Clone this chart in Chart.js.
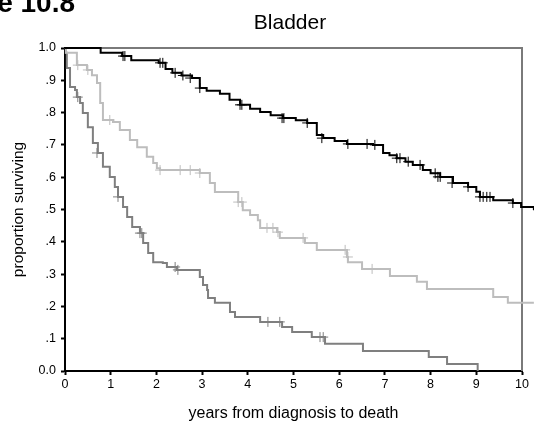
<!DOCTYPE html>
<html>
<head>
<meta charset="utf-8">
<script src="https://cdn.jsdelivr.net/npm/chart.js@4.4.1/dist/chart.umd.min.js"></script>
<style>
    body { margin: 0; background: #fff; }
    #wrap { position: relative; width: 534px; height: 435px; overflow: hidden; font-family: "Liberation Sans", Arial, sans-serif; }
    #figura { position: absolute; right: 459px; top: -11px; font-weight: bold; font-size: 28px; line-height: 28px; white-space: nowrap; color: #000; }
    #titulo { position: absolute; left: 0; width: 580px; top: 11px; text-align: center; font-size: 21px; line-height: 21px; color: #000; }
    canvas { position: absolute; left: 0; top: 0; }
</style>
</head>
<body>
<div id="wrap">
    <canvas id="chart1" width="534" height="435"></canvas>
    <div id="figura">Figure 10.8</div>
    <div id="titulo">Bladder</div>
</div>
<script>
// curva superior (negra)
const negroT = [0, 0.78, 1.25, 1.45, 2.05, 2.20, 2.35, 2.55, 2.78, 2.95, 3.10, 3.39, 3.60, 3.83, 4.05, 4.27, 4.50, 4.77, 5.05, 5.30, 5.51, 5.65, 5.90, 6.17, 6.74, 6.96, 7.10, 7.26, 7.45, 7.61, 7.83, 8.00, 8.21, 8.49, 8.82, 9.00, 9.08, 9.37, 9.80, 9.98, 10.26];
const negroS = [1.0, 0.985, 0.975, 0.962, 0.954, 0.935, 0.923, 0.915, 0.907, 0.876, 0.868, 0.858, 0.840, 0.824, 0.812, 0.802, 0.792, 0.783, 0.776, 0.768, 0.731, 0.721, 0.712, 0.703, 0.700, 0.675, 0.668, 0.659, 0.648, 0.638, 0.622, 0.612, 0.601, 0.582, 0.570, 0.555, 0.539, 0.529, 0.520, 0.508, 0.498];
const negroCensT = [1.27, 1.31, 2.08, 2.14, 2.41, 2.58, 2.74, 2.95, 3.83, 3.87, 4.75, 4.79, 5.30, 5.62, 6.19, 6.61, 6.78, 7.26, 7.33, 7.51, 7.77, 8.10, 8.16, 8.21, 8.47, 8.82, 9.08, 9.15, 9.23, 9.30, 9.80];
const negroCensS = [0.975, 0.975, 0.954, 0.954, 0.923, 0.915, 0.907, 0.876, 0.824, 0.824, 0.783, 0.783, 0.768, 0.721, 0.703, 0.703, 0.700, 0.659, 0.659, 0.648, 0.638, 0.612, 0.601, 0.601, 0.582, 0.570, 0.539, 0.539, 0.539, 0.539, 0.520];

// curva intermedia (gris claro)
const claroT = [0, 0.02, 0.26, 0.48, 0.59, 0.70, 0.77, 0.83, 1.05, 1.20, 1.42, 1.58, 1.79, 1.93, 2.01, 2.08, 2.95, 3.17, 3.28, 3.79, 3.89, 4.05, 4.22, 4.27, 4.64, 4.70, 5.25, 5.51, 6.17, 6.19, 6.50, 7.11, 7.70, 7.92, 9.37, 9.69, 10.26];
const claroS = [1.0, 0.985, 0.947, 0.932, 0.916, 0.892, 0.830, 0.777, 0.771, 0.746, 0.715, 0.693, 0.663, 0.644, 0.628, 0.622, 0.613, 0.582, 0.554, 0.523, 0.498, 0.483, 0.467, 0.443, 0.430, 0.412, 0.396, 0.375, 0.353, 0.337, 0.316, 0.294, 0.276, 0.254, 0.229, 0.211, 0.211];
const claroCensT = [0.28, 0.50, 0.98, 2.08, 2.52, 2.74, 2.95, 3.79, 3.87, 4.42, 4.55, 4.66, 5.21, 6.13, 6.19, 6.72];
const claroCensS = [0.947, 0.932, 0.777, 0.622, 0.622, 0.622, 0.613, 0.523, 0.523, 0.443, 0.443, 0.430, 0.412, 0.375, 0.353, 0.316];

// curva inferior (gris medio)
const medioT = [0, 0.02, 0.04, 0.11, 0.22, 0.26, 0.33, 0.39, 0.50, 0.61, 0.72, 0.83, 0.98, 1.09, 1.16, 1.27, 1.36, 1.47, 1.64, 1.71, 1.82, 1.93, 2.14, 2.23, 2.45, 2.95, 3.02, 3.11, 3.13, 3.28, 3.61, 3.72, 4.27, 4.75, 4.97, 5.40, 5.69, 6.52, 7.96, 8.36, 9.03];
const medioS = [1.0, 0.985, 0.938, 0.879, 0.870, 0.848, 0.830, 0.799, 0.755, 0.706, 0.675, 0.632, 0.601, 0.570, 0.539, 0.508, 0.477, 0.446, 0.427, 0.396, 0.365, 0.337, 0.334, 0.322, 0.313, 0.291, 0.266, 0.251, 0.226, 0.211, 0.183, 0.167, 0.152, 0.136, 0.121, 0.105, 0.084, 0.062, 0.043, 0.022, 0.0];
const medioCensT = [0.28, 0.70, 1.16, 1.64, 1.68, 2.41, 2.47, 4.44, 4.70, 5.58, 5.65];
const medioCensS = [0.848, 0.675, 0.539, 0.427, 0.427, 0.322, 0.313, 0.152, 0.152, 0.105, 0.105];

const ticksX = [0, 1, 2, 3, 4, 5, 6, 7, 8, 9, 10];
const ticksY = [0, 0.1, 0.2, 0.3, 0.4, 0.5, 0.6, 0.7, 0.8, 0.9, 1.0];

const colorNegro = '#000000';
const colorClaro = '#bdbdbd';
const colorMedio = '#7f7f7f';

function puntos(ts, ss) {
    return ts.map((t, i) => { return { x: t, y: ss[i] } });
}

function curva(ts, ss, color) {
    return {
        type: 'line',
        data: puntos(ts, ss),
        borderColor: color,
        borderWidth: 2,
        stepped: 'before',
        pointRadius: 0,
        fill: false,
        clip: false
    };
}

function censura(ts, ss, color) {
    return {
        type: 'scatter',
        data: puntos(ts, ss),
        borderColor: color,
        backgroundColor: color,
        pointStyle: 'cross',
        pointRadius: 5,
        borderWidth: 1,
        clip: false
    };
}

// marco gris arriba y a la derecha
const marco = {
    id: 'marco',
    beforeDatasetsDraw(chart) {
        const a = chart.chartArea;
        const ctx = chart.ctx;
        ctx.save();
        ctx.strokeStyle = '#7a7a7a';
        ctx.lineWidth = 2;
        ctx.beginPath();
        ctx.moveTo(a.left, a.top);
        ctx.lineTo(a.right, a.top);
        ctx.lineTo(a.right, a.bottom);
        ctx.stroke();
        ctx.restore();
    }
};

const fuente = "'Liberation Sans', Arial, sans-serif";

const config = {
    data: {
        datasets: [
            curva(negroT, negroS, colorNegro),
            curva(claroT, claroS, colorClaro),
            curva(medioT, medioS, colorMedio),
            censura(negroCensT, negroCensS, colorNegro),
            censura(claroCensT, claroCensS, colorClaro),
            censura(medioCensT, medioCensS, colorMedio)
        ]
    },
    options: {
        responsive: false,
        animation: false,
        layout: { padding: { top: 48, right: 12, bottom: 0, left: 0 } },
        plugins: {
            legend: { display: false },
            tooltip: { enabled: false }
        },
        scales: {
            x: {
                type: 'linear',
                min: 0,
                max: 10,
                afterBuildTicks: (scale) => { scale.ticks = ticksX.map((v) => { return { value: v } }); },
                afterFit: (scale) => { scale.height = 64; },
                ticks: { color: '#000', font: { family: fuente, size: 12.5 }, padding: 2, maxRotation: 0 },
                grid: { drawOnChartArea: false, tickLength: 4, color: '#000', tickWidth: 2 },
                border: { color: '#000', width: 2 },
                title: { display: true, text: 'years from diagnosis to death', color: '#000', font: { family: fuente, size: 16 }, padding: { top: 0, bottom: 12 } }
            },
            y: {
                type: 'linear',
                min: 0,
                max: 1,
                afterBuildTicks: (scale) => { scale.ticks = ticksY.map((v) => { return { value: v } }); },
                afterFit: (scale) => { scale.width = 65; },
                ticks: {
                    color: '#000',
                    font: { family: fuente, size: 12.5 },
                    padding: 5,
                    callback: function (v) {
                        const d = Math.round(v * 10);
                        if (d === 0) return '0.0';
                        if (d === 10) return '1.0';
                        return '.' + d;
                    }
                },
                grid: { drawOnChartArea: false, tickLength: 4, color: '#000', tickWidth: 2 },
                border: { color: '#000', width: 2 },
                title: { display: true, text: 'proportion surviving', color: '#000', font: { family: fuente, size: 15.5 }, padding: { top: 9, bottom: 0 } }
            }
        }
    },
    plugins: [marco]
};

const canva = document.getElementById('chart1');
const grafico = new Chart(canva, config);
</script>
</body>
</html>
